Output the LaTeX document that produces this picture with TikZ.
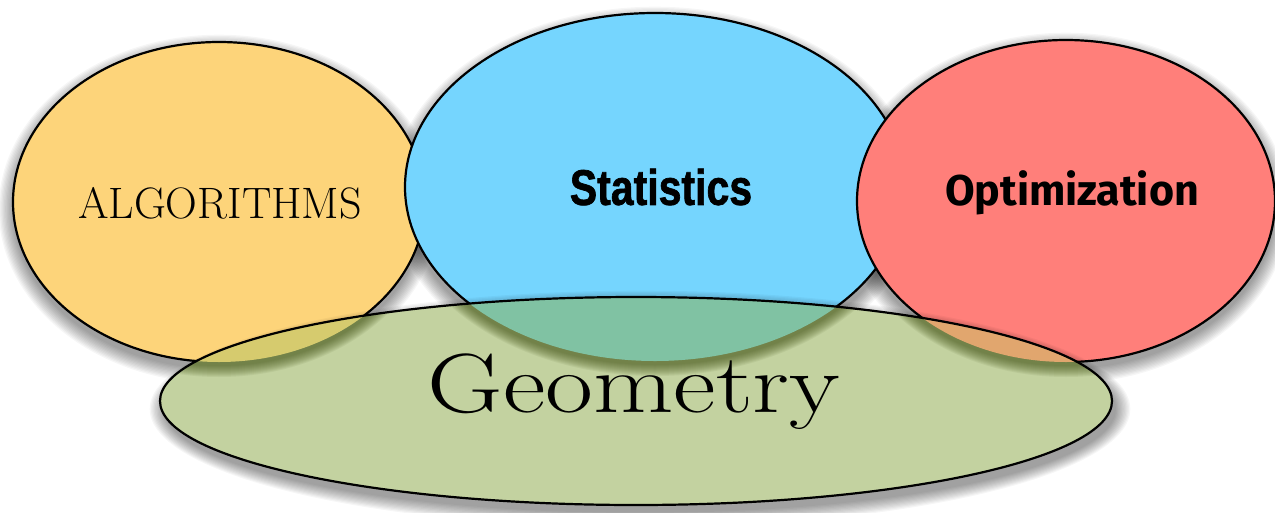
\documentclass[tikz,border=0pt]{standalone}
\usepackage{fontspec}
\usepackage{graphicx}
\newfontfamily\statfont[BoldFeatures={FakeBold=1.5}]{Liberation Sans}
\newfontfamily\optfont{Fira Sans}
\definecolor{algC}{HTML}{FDD47A}
\definecolor{statC}{HTML}{75D5FE}
\definecolor{optC}{HTML}{FF7F7A}
\definecolor{geoC}{HTML}{C3D2A0}
\definecolor{algG}{HTML}{D6CB6E}
\definecolor{statG}{HTML}{80C2A3}
\definecolor{optG}{HTML}{E1A66E}
\definecolor{oliveS}{HTML}{3F4F12}
\tikzset{
  outline/.style={draw=black, line width=2.2pt},
  shadowlayer/.style={fill=black, opacity=0.035},
  oliveshade/.style={fill=oliveS, opacity=0.07},
  lbl/.style={inner sep=0pt, text=black}
}
\begin{document}
\begin{tikzpicture}[x=1pt,y=-1pt]
\useasboundingbox (0,0) rectangle (1275,512);
\fill[white] (0,0) rectangle (1275,512);
% shadows of the three upper ellipses
\foreach \k in {0,...,11}{
  \fill[shadowlayer] (219,209) ellipse [x radius={206pt+\k*1.3pt}, y radius={160pt+\k*1.3pt}];
  \fill[shadowlayer] (655,195) ellipse [x radius={250pt+\k*1.3pt}, y radius={174pt+\k*1.3pt}];
  \fill[shadowlayer] (1066,208) ellipse [x radius={209pt+\k*1.3pt}, y radius={161pt+\k*1.3pt}];
}
% upper ellipses
\path[fill=algC, outline] (219,202) ellipse [x radius=206pt, y radius=160pt];
\path[fill=statC, outline] (655,187) ellipse [x radius=250pt, y radius=174pt];
\path[fill=optC, outline] (1066,201) ellipse [x radius=209pt, y radius=161pt];
% shadow of geometry
\foreach \k in {0,...,11}{
  \fill[shadowlayer] (640,409) ellipse [x radius={476pt+\k*1.3pt}, y radius={104pt+\k*1.3pt}];
}
% geometry ellipse
\fill[geoC] (636,401) ellipse [x radius=476pt, y radius=104pt];
\begin{scope}
  \clip (636,401) ellipse [x radius=476pt, y radius=104pt];
  \foreach \k in {0,...,11}{
    \fill[oliveshade] (219,206) ellipse [x radius={206pt+\k*1.0pt}, y radius={160pt+\k*1.0pt}];
    \fill[oliveshade] (655,191) ellipse [x radius={250pt+\k*1.0pt}, y radius={174pt+\k*1.0pt}];
    \fill[oliveshade] (1066,205) ellipse [x radius={209pt+\k*1.0pt}, y radius={161pt+\k*1.0pt}];
  }
  \fill[algG] (219,202) ellipse [x radius=206pt, y radius=160pt];
  \fill[statG] (655,187) ellipse [x radius=250pt, y radius=174pt];
  \fill[optG] (1066,201) ellipse [x radius=209pt, y radius=161pt];
\end{scope}
\path[outline] (636,401) ellipse [x radius=476pt, y radius=104pt];
% labels
\node[lbl] (alg) at (220,203)
  {\fontsize{44pt}{44pt}\selectfont\scalebox{1.0}[1]{ALGORITHMS}};
\node[lbl] (stat) at (661,187)
  {\statfont\bfseries\fontsize{50pt}{50pt}\selectfont\scalebox{0.82}[1]{Statistics}};
\node[lbl] (opt) at (1072,193)
  {\optfont\bfseries\fontsize{43pt}{43pt}\selectfont\scalebox{1.0}[1]{Optimization}};
\node[lbl] (geo) at (634,392)
  {\fontsize{84pt}{84pt}\selectfont\scalebox{1.24}[1]{Geometry}};
\end{tikzpicture}
\end{document}
